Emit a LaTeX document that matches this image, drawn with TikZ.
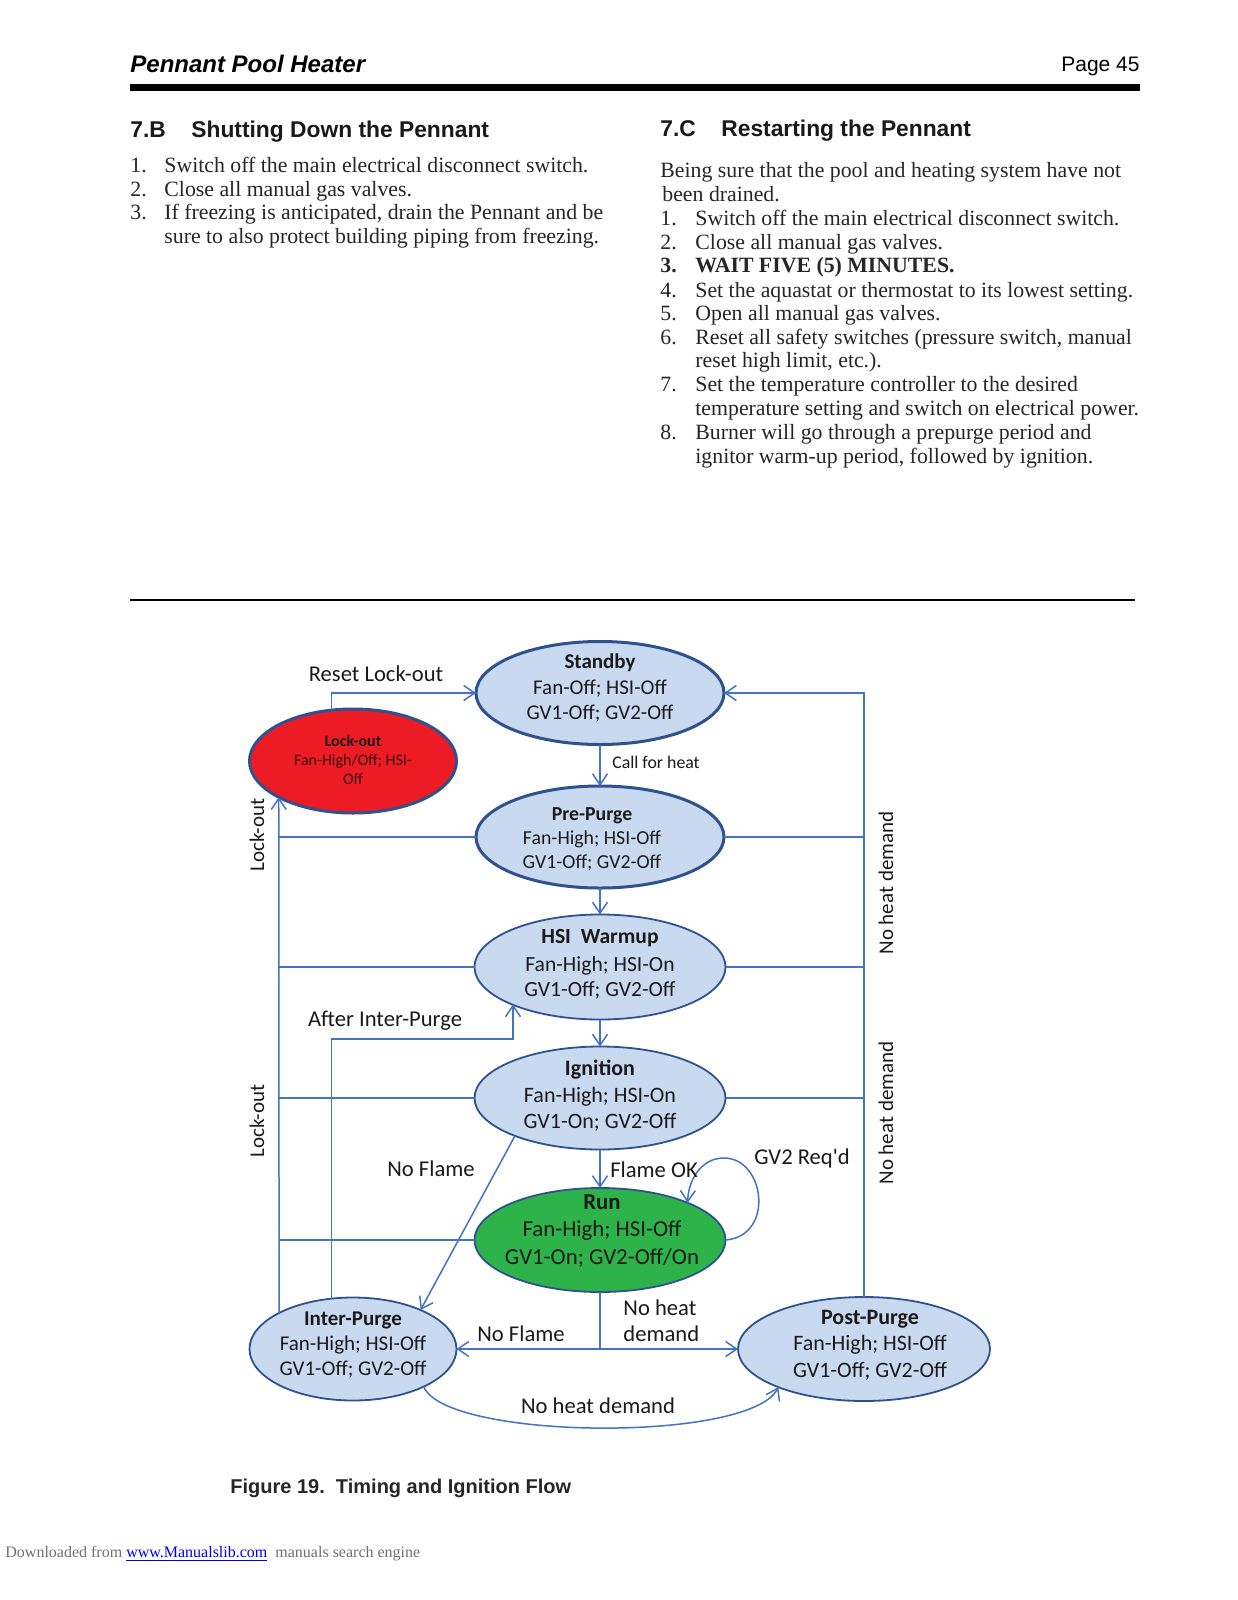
\documentclass[tikz,border=0pt]{standalone}
\usepackage{fontspec}
\setmainfont{Liberation Serif}
\newfontfamily\calfont{Carlito}
\newfontfamily\arialfont{Liberation Sans}
\usetikzlibrary{shapes.geometric,arrows.meta}
\definecolor{stfill}{HTML}{C9DAF0}
\definecolor{stline}{HTML}{2F528F}
\definecolor{connc}{HTML}{4472C4}
\definecolor{lockred}{HTML}{ED1C24}
\definecolor{rungreen}{HTML}{2DB34A}
\definecolor{txt}{HTML}{1A1A1A}
\definecolor{lotxt}{HTML}{3A1010}
\definecolor{footgrey}{HTML}{707070}
\definecolor{linkblue}{HTML}{0000EE}
\begin{document}
\begin{tikzpicture}[x=0.5pt,y=-0.5pt,
  state/.style={ellipse, draw=stline, fill=stfill, line width=0.9pt, inner sep=0pt, outer sep=0pt},
  thickstate/.style={state, line width=1.5pt},
  ln/.style={draw=connc, line width=0.75pt},
  arr/.style={ln, -{Straight Barb[length=5.5pt,width=7.5pt]}},
  lbl/.style={font=\calfont\fontsize{11.3}{13}\selectfont, text=txt, inner sep=0pt},
  rlbl/.style={font=\calfont\fontsize{10.5}{12}\selectfont, text=txt, inner sep=0pt, rotate=90},
  stt/.style={align=center, text=txt, inner sep=0pt},
  body/.style={anchor=base west, inner sep=0pt, font=\fontsize{10.9}{12}\selectfont, text=black!85},
  head/.style={anchor=base west, inner sep=0pt, font=\arialfont\bfseries\fontsize{11.4}{13}\selectfont, text=black!90}
]
\fill[white] (0,0) rectangle (1237,1600);
\useasboundingbox (0,0) rectangle (1237,1600);

% header
\node[anchor=base west, inner sep=0pt, font=\arialfont\bfseries\itshape\fontsize{12}{14}\selectfont] (hdr) at (130,73) {Pennant Pool Heater};
\node[anchor=base east, inner sep=0pt, font=\arialfont\fontsize{10.5}{12}\selectfont] (pg) at (1140,72) {Page 45};
\fill[black] (130,84) rectangle (1140,91);

% section 7.B
\node[head] (h7b) at (130,138) {\makebox[30.5pt][l]{7.B}Shutting Down the Pennant};
\node[body] (b1n) at (130,172) {1.};
\node[body] (b1) at (164,172) {Switch off the main electrical disconnect switch.};
\node[body] (b2n) at (130,196) {2.};
\node[body] (b2) at (164,196) {Close all manual gas valves.};
\node[body] (b3n) at (130,219) {3.};
\node[body] (b3) at (164,219) {If freezing is anticipated, drain the Pennant and be};
\node[body] (b3b) at (164,243) {sure to also protect building piping from freezing.};

% section 7.C
\node[head] (h7c) at (660,136) {\makebox[30.5pt][l]{7.C}Restarting the Pennant};
\node[body] (c0) at (660,177) {Being sure that the pool and heating system have not};
\node[body] (c0b) at (662,201) {been drained.};
\node[body] (c1n) at (660,225) {1.};
\node[body] (c1) at (695,225) {Switch off the main electrical disconnect switch.};
\node[body] (c2n) at (660,249) {2.};
\node[body] (c2) at (695,249) {Close all manual gas valves.};
\node[body, font=\bfseries\fontsize{10.9}{12}\selectfont] (c3n) at (660,272) {3.};
\node[body, font=\bfseries\fontsize{10.9}{12}\selectfont] (c3) at (695,272) {WAIT FIVE (5) MINUTES.};
\node[body] (c4n) at (660,297) {4.};
\node[body] (c4) at (695,297) {Set the aquastat or thermostat to its lowest setting.};
\node[body] (c5n) at (660,320) {5.};
\node[body] (c5) at (695,320) {Open all manual gas valves.};
\node[body] (c6n) at (660,344) {6.};
\node[body] (c6) at (695,344) {Reset all safety switches (pressure switch, manual};
\node[body] (c6b) at (695,367) {reset high limit, etc.).};
\node[body] (c7n) at (660,391) {7.};
\node[body] (c7) at (695,391) {Set the temperature controller to the desired};
\node[body] (c7b) at (695,415) {temperature setting and switch on electrical power.};
\node[body] (c8n) at (660,439) {8.};
\node[body] (c8) at (695,439) {Burner will go through a prepurge period and};
\node[body] (c8b) at (695,463) {ignitor warm-up period, followed by ignition.};

\draw[black, line width=1pt] (130,600) -- (1135,600);

% states
\node[thickstate, minimum width=124pt, minimum height=51.5pt] (standby) at (600,693) {};
\node[thickstate, fill=lockred, minimum width=103.5pt, minimum height=52pt] (lockout) at (353,761) {};
\node[thickstate, minimum width=124pt, minimum height=51pt] (prepurge) at (600,837) {};
\node[state, minimum width=125.5pt, minimum height=52.5pt] (hsi) at (600,967) {};
\node[state, minimum width=125.5pt, minimum height=51.5pt] (ignition) at (600,1098) {};
\node[state, fill=rungreen, minimum width=125.5pt, minimum height=52pt] (run) at (600,1240) {};
\node[state, minimum width=103.5pt, minimum height=51.5pt] (interpurge) at (353,1349) {};
\node[state, minimum width=126pt, minimum height=52pt] (postpurge) at (864,1349) {};

% state texts
\node[stt, font=\calfont\fontsize{10.5}{12.75}\selectfont] (standby-t) at (600,688) {\textbf{Standby}\\Fan-Off; HSI-Off\\GV1-Off; GV2-Off};
\node[stt, font=\calfont\fontsize{8}{9.5}\selectfont, text=lotxt] (lockout-t) at (353,760) {\textcolor{txt}{\textbf{Lock-out}}\\Fan-High/Off; HSI-\\Off};
\node[stt, font=\calfont\fontsize{9.9}{12}\selectfont] (prepurge-t) at (592,839) {\textbf{Pre-Purge}\\Fan-High; HSI-Off\\GV1-Off; GV2-Off};
\node[stt, font=\calfont\fontsize{10.8}{12.5}\selectfont] (hsi-t) at (600,964) {\textbf{HSI~~Warmup}\\[1.5pt]Fan-High; HSI-On\\GV1-Off; GV2-Off};
\node[stt, font=\calfont\fontsize{11}{13.2}\selectfont] (ignition-t) at (600,1096) {\textbf{Ignition}\\Fan-High; HSI-On\\GV1-On; GV2-Off};
\node[stt, font=\calfont\fontsize{11.4}{13.6}\selectfont] (run-t) at (602,1231) {\textbf{Run}\\Fan-High; HSI-Off\\GV1-On; GV2-Off/On};
\node[stt, font=\calfont\fontsize{10.5}{12.5}\selectfont] (interpurge-t) at (353,1345) {\textbf{Inter-Purge}\\Fan-High; HSI-Off\\GV1-Off; GV2-Off};
\node[stt, font=\calfont\fontsize{11}{13.2}\selectfont] (postpurge-t) at (870,1345) {\textbf{Post-Purge}\\Fan-High; HSI-Off\\GV1-Off; GV2-Off};

% connectors
\draw[arr] (lockout.113) |- (standby.west);
\draw[arr] (standby.south) -- (prepurge.north);
\draw[arr] (prepurge.south) -- (hsi.north);
\draw[arr] (hsi.south) -- (ignition.north);
\draw[arr] (ignition.south) -- (run.north);
\draw[arr] (interpurge.154) -- (lockout.206);
\draw[ln] (prepurge.west) -- (prepurge.west -| lockout.206);
\draw[ln] (hsi.west) -- (hsi.west -| lockout.206);
\draw[ln] (ignition.west) -- (ignition.west -| lockout.206);
\draw[ln] (run.west) -- (run.west -| lockout.206);
\draw[arr] (postpurge.north) |- (standby.east);
\draw[ln] (prepurge.east) -- (prepurge.east -| postpurge.north);
\draw[ln] (hsi.east) -- (hsi.east -| postpurge.north);
\draw[ln] (ignition.east) -- (ignition.east -| postpurge.north);
\coordinate (aip) at (513,1039);
\draw[arr] (interpurge.113) |- (aip) -- (aip |- hsi.203);
\draw[arr] (ignition.204) -- (interpurge.30);
\coordinate (jn) at (run.south |- interpurge.east);
\draw[ln] (run.south) -- (jn);
\draw[arr] (jn) -- (interpurge.east);
\draw[arr] (jn) -- (postpurge.west);
\coordinate (lp) at (724,1158);
\draw[arr] (run.east) .. controls (775,1236) and (765,1158) .. (lp) .. controls (700,1158) and (688,1182) .. (run.23);
\draw[arr] (interpurge.332) .. controls (445,1440) and (750,1443) .. (postpurge.204);

% labels
\node[lbl] (l-reset) at (376,674) {Reset Lock-out};
\node[lbl, font=\calfont\fontsize{8.9}{10}\selectfont] (l-call) at (656,762) {Call for heat};
\node[rlbl] (l-lo1) at (257,835) {Lock-out};
\node[rlbl] (l-lo2) at (257,1121) {Lock-out};
\node[rlbl] (l-nhd1) at (886,883) {No heat demand};
\node[rlbl] (l-nhd2) at (886,1113) {No heat demand};
\node[lbl] (l-aip) at (385,1021) {After Inter-Purge};
\node[lbl] (l-nf1) at (431,1169) {No Flame};
\node[lbl] (l-fok) at (654,1170) {Flame OK};
\node[lbl] (l-gv2) at (802,1158) {GV2 Req'd};
\node[lbl, align=left, anchor=west] (l-nhd3) at (623,1321) {No heat\\demand};
\node[lbl] (l-nf2) at (521,1334) {No Flame};
\node[lbl] (l-nhd4) at (598,1406) {No heat demand};

% caption and footer
\node[anchor=base west, inner sep=0pt, font=\arialfont\bfseries\fontsize{10}{12}\selectfont, text=black!85] (cap) at (230,1493) {Figure 19.\ \ Timing and Ignition Flow};
\node[anchor=base west, inner sep=0pt, font=\fontsize{8}{10}\selectfont, text=footgrey] (foot) at (5,1557) {Downloaded from \textcolor{linkblue}{\underline{www.Manualslib.com}}\ \ manuals search engine};
\end{tikzpicture}
\end{document}
